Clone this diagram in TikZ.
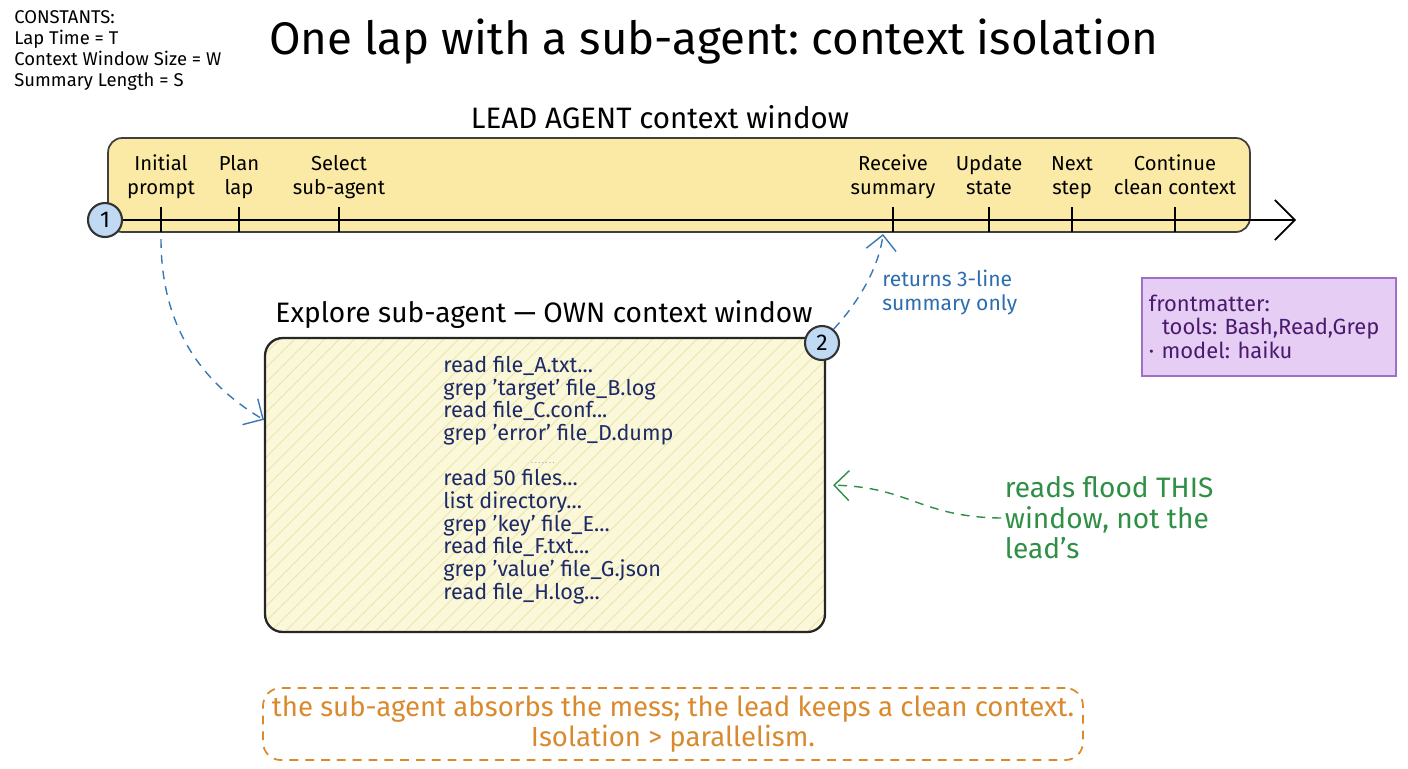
\documentclass[tikz,border=0pt]{standalone}
\usepackage{fontspec}
\setmainfont{Fira Sans}
\usepackage{xcolor}
\usetikzlibrary{arrows.meta,positioning,calc,patterns.meta}
\frenchspacing

\definecolor{leadfill}{HTML}{FAEAA6}
\definecolor{subfill}{HTML}{FBF8DA}
\definecolor{hatch}{HTML}{E9E5AE}
\definecolor{dotblue}{HTML}{BFDAF2}
\definecolor{arrblue}{HTML}{3A78B5}
\definecolor{txtblue}{HTML}{2C6DAF}
\definecolor{codeblue}{HTML}{1E2A66}
\definecolor{fmfill}{HTML}{E6CDF4}
\definecolor{fmdraw}{HTML}{A070C8}
\definecolor{fmtext}{HTML}{4B1A6E}
\definecolor{floodgreen}{HTML}{2F8F46}
\definecolor{noteorange}{HTML}{D98A2E}

\begin{document}
\begin{tikzpicture}[
    x=0.02cm, y=-0.02cm,
    lane/.style={draw=black!75, line width=1pt, rounded corners=8pt, fill=leadfill},
    subbox/.style={draw=black!85, line width=1.3pt, rounded corners=10pt,
        preaction={fill=subfill},
        preaction={pattern={Lines[angle=45,distance=6pt,line width=0.5pt]}, pattern color=hatch}},
    numdot/.style={circle, draw=black!80, line width=1.2pt, fill=dotblue, minimum size=0.68cm, inner sep=0pt, font=\fontsize{13}{13}\selectfont},
    ticklbl/.style={anchor=south, align=center, inner sep=2pt, text depth=3pt, font=\fontsize{11.5}{14}\selectfont},
    head/.style={font=\fontsize{16}{19}\selectfont},
    arr/.style={-{Straight Barb[length=3mm]}, line width=0.8pt, dash pattern=on 5pt off 4pt}
]
\useasboundingbox (0,0) rectangle (1408,768);

\node[anchor=north west, align=left, inner sep=0pt, font=\fontsize{10.5}{12}\selectfont] (consts) at (14,10)
    {CONSTANTS:\\Lap Time = T\\Context Window Size = W\\Summary Length = S};
\node[font=\fontsize{26}{30}\selectfont] (title) at (714,42) {One lap with a sub-agent: context isolation};

\node[font=\fontsize{16.8}{20}\selectfont] (leadttl) at (660,117) {LEAD AGENT context window};
\node[lane, minimum width=22.84cm, minimum height=1.88cm] (lead) at (679,185) {};

\node[numdot] (c1) at (105,220) {1};
\coordinate (axend) at (1296,220);
\draw[line width=1pt, -{Straight Barb[length=4mm]}] (c1) -- (axend);

\foreach \k/\x/\t in {1/161/{Initial\\prompt}, 2/239/{Plan\\lap}, 3/339/{Select\\sub-agent},
    4/893/{Receive\\summary}, 5/989/{Update\\state}, 6/1072/{Next\\step}, 7/1175/{Continue\\clean context}} {
  \coordinate (k\k) at (\x,232);
  \draw[line width=1pt] (\x,207) -- (k\k);
  \node[ticklbl] (lbl\k) at (\x,204) {\t};
}

\node[head] (subttl) at (544,315) {Explore sub-agent — OWN context window};
\node[subbox, minimum width=11.2cm, minimum height=5.88cm] (sub) at (545,485) {};
\node[numdot] (c2) at (822,343) {2};

\node[anchor=north west, align=left, inner sep=0pt, text=codeblue, font=\fontsize{12.3}{12.9}\selectfont] (code) at (443,356)
    {read file\_A.txt...\\grep 'target' file\_B.log\\read file\_C.conf...\\grep 'error' file\_D.dump\\
     \hspace*{50pt}{\tiny\textcolor{codeblue!45}{.\,.\,.\,.\,.\,.\,.}}\\
     read 50 files...\\list directory...\\grep 'key' file\_E...\\read file\_F.txt...\\grep 'value' file\_G.json\\read file\_H.log...};

\coordinate (subin) at ($(sub.north west)!0.28!(sub.south west)$);
\draw[arr, arrblue, shorten <=4pt] (k1) .. controls (161,330) and (205,385) .. (subin);

\coordinate (rx) at (883,234);
\draw[arr, arrblue] (c2.50) .. controls (865,295) and (880,260) .. (rx);
\node[anchor=north west, align=left, inner sep=0pt, text=txtblue, font=\fontsize{12}{13.6}\selectfont] (ret) at (882,270)
    {returns 3-line\\summary only};

\node[anchor=north west, draw=fmdraw, line width=1pt, fill=fmfill, text=fmtext, align=left,
      text width=4.8cm, minimum height=1.96cm, inner sep=4pt, font=\fontsize{12.5}{13.6}\selectfont] (fm) at (1141,277)
    {frontmatter:\\\hspace*{0.6em}tools: Bash,Read,Grep\\· model: haiku};

\node[anchor=west, align=left, inner sep=2pt, text=floodgreen, font=\fontsize{16}{17.3}\selectfont] (flood) at (1001,518)
    {reads flood THIS\\window, not the\\lead's};
\draw[arr, floodgreen, shorten >=4pt] (flood.west) .. controls (920,517) and (910,487) .. (sub.east);

\node[draw=noteorange, line width=1pt, dash pattern=on 5pt off 4pt, rounded corners=10pt, text=noteorange,
      minimum width=16.4cm, minimum height=1.44cm, align=center, font=\fontsize{15.7}{17.3}\selectfont] (note) at (673,724)
    {the sub-agent absorbs the mess; the lead keeps a clean context.\\Isolation > parallelism.};
\end{tikzpicture}
\end{document}
